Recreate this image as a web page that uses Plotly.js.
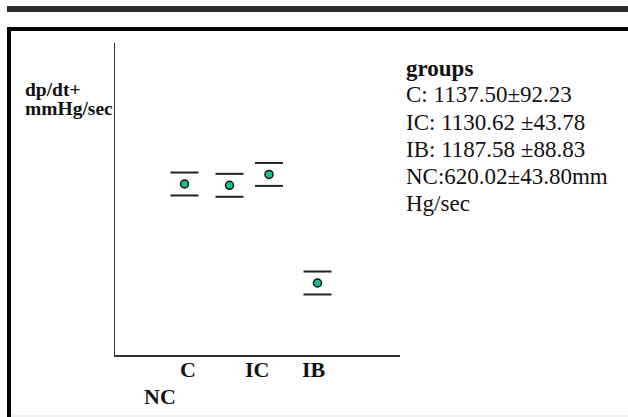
<!DOCTYPE html>
<html>
<head>
<meta charset="utf-8">
<script src="https://cdn.plot.ly/plotly-3.0.1.min.js"></script>
<style>
html,body{margin:0;padding:0;background:#fff;}
#chart{width:628px;height:417px;}
</style>
</head>
<body>
<div id="chart"></div>
<script>
// ---- data ----
var groups = ['C', 'IC', 'IB', 'NC'];
var groupX = [1, 2.015, 2.906, 4];          // horizontal placement of each group
var means = [1137.50, 1130.62, 1187.58, 620.02];
var errBar = [60, 60, 60, 60];              // drawn error-bar half-heights (as pictured)
var tickLabels = ['C', 'IC', 'IB', 'NC'];
var tickLabelX = [1.068, 2.635, 3.91, 0.447];
var tickLabelRow = [0, 0, 0, 1];
var legendLines = ['<b>groups</b>', 'C: 1137.50±92.23', 'IC: 1130.62 ±43.78',
                   'IB: 1187.58 ±88.83', 'NC:620.02±43.80mm', 'Hg/sec'];
var yTitleLines = ['dp/dt+', 'mmHg/sec'];

// ---- geometry helpers ----
var W = 628, H = 417, L = 115, R = 400, T = 43, B = 355;
function px(x){ return (x - L) / (R - L); }
function py(y){ return (B - y) / (B - T); }

var serif = 'Liberation Serif, Times New Roman, serif';

var upper = means.map(function(v,i){ return v + errBar[i]; });
var lower = means.map(function(v,i){ return v - errBar[i]; });

var capStyle = {symbol:'line-ew', size:20, line:{width:2, color:'#222'}};

var traces = [
  {x:groupX, y:upper, mode:'markers', marker:capStyle, hoverinfo:'skip', showlegend:false},
  {x:groupX, y:lower, mode:'markers', marker:capStyle, hoverinfo:'skip', showlegend:false},
  {x:groupX, y:means, text:groups, mode:'markers', showlegend:false,
   marker:{symbol:'circle', size:8, color:'#14c291', line:{width:1.5, color:'#111'}}}
];

var annotations = [];
tickLabels.forEach(function(t,i){
  annotations.push({xref:'x', yref:'paper', x:tickLabelX[i],
    y: tickLabelRow[i] === 0 ? py(369) : py(396),
    xanchor:'center', yanchor:'middle', showarrow:false,
    text:'<b>'+t+'</b>', font:{family:serif, size:22, color:'#111'}});
});
yTitleLines.forEach(function(t,i){
  annotations.push({xref:'paper', yref:'paper', x:px(23), y:py(89 + 19*i),
    xanchor:'left', yanchor:'middle', showarrow:false,
    text:'<b>'+t+'</b>', font:{family:serif, size:19.5, color:'#111'}});
});
legendLines.forEach(function(t,i){
  annotations.push({xref:'paper', yref:'paper', x:px(404), y:py(68 + 27*i),
    xanchor:'left', yanchor:'middle', showarrow:false,
    text:t, font:{family:serif, size:23, color:'#111'}});
});

var shapes = [
  {type:'rect', xref:'paper', yref:'paper', x0:px(7), x1:px(640), y0:py(12), y1:py(6),
   fillcolor:'#2b2b2b', line:{width:0}},
  {type:'line', xref:'paper', yref:'paper', x0:px(7), x1:px(640), y0:py(29), y1:py(29),
   line:{width:4, color:'#000'}},
  {type:'line', xref:'paper', yref:'paper', x0:px(9), x1:px(9), y0:py(27), y1:py(430),
   line:{width:4, color:'#000'}},
  {type:'line', xref:'paper', yref:'paper', x0:px(11), x1:px(640), y0:py(416), y1:py(416),
   line:{width:1, color:'#e2e2e2'}}
];

var layout = {
  width:W, height:H,
  margin:{l:L, r:W-R, t:T, b:H-B, pad:0},
  paper_bgcolor:'#fff', plot_bgcolor:'#fff',
  xaxis:{range:[-0.568, 5.861], showline:true, linecolor:'#333', linewidth:1.5,
         showgrid:false, zeroline:false, showticklabels:false, ticks:''},
  yaxis:{range:[243.7, 1874.5], showline:true, linecolor:'#333', linewidth:1.5,
         showgrid:false, zeroline:false, showticklabels:false, ticks:''},
  annotations:annotations,
  shapes:shapes,
  showlegend:false
};

Plotly.newPlot('chart', traces, layout, {staticPlot:true, displayModeBar:false});
</script>
</body>
</html>
